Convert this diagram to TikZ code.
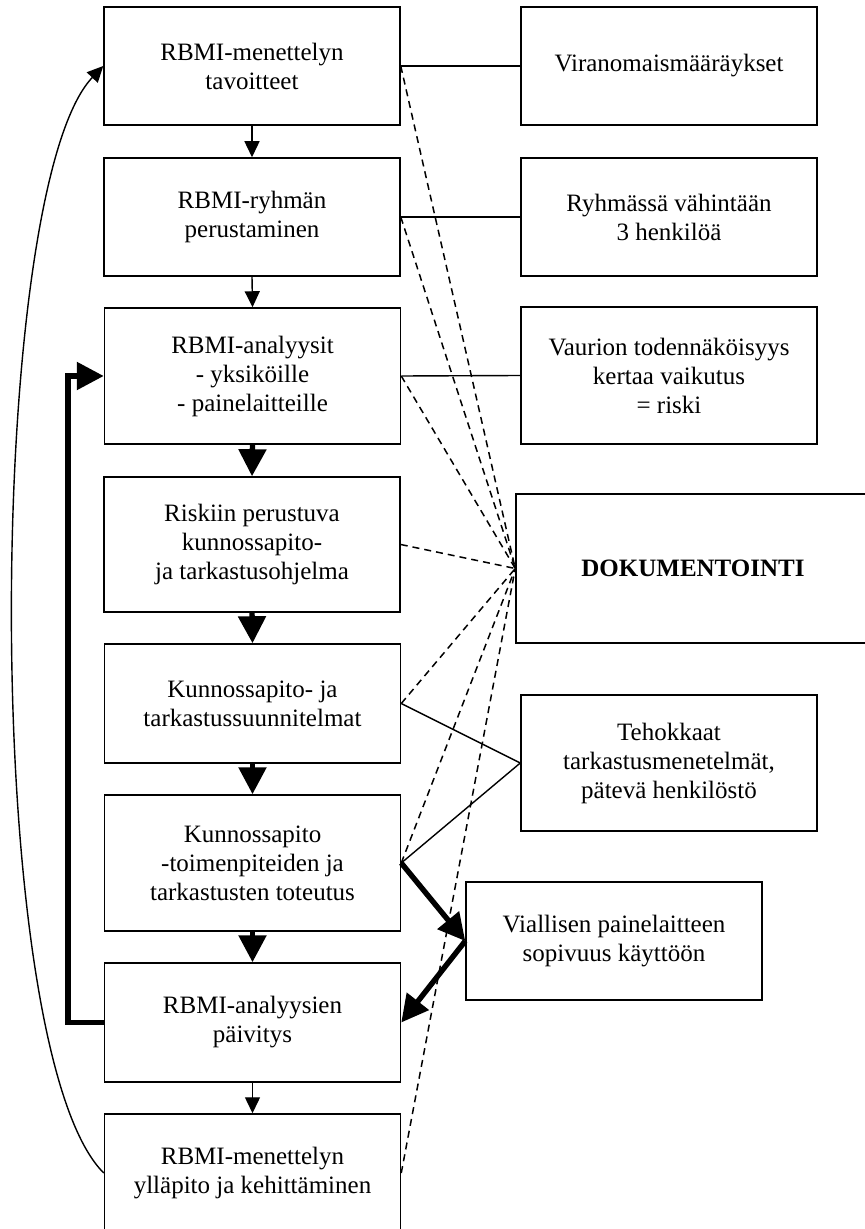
\documentclass[tikz,border=0pt]{standalone}
\usepackage{fontspec}
\setmainfont{Liberation Serif}
\usetikzlibrary{arrows.meta}
\begin{document}
\begin{tikzpicture}[x=0.5pt,y=-0.5pt,
  box/.style={draw, line width=0.75pt, align=center, inner sep=0pt,
    minimum width=148pt, minimum height=59pt,
    font=\fontsize{12.5}{14.5}\selectfont},
  sline/.style={line width=0.7pt},
  dsh/.style={line width=0.75pt, dash pattern=on 3.5pt off 2.5pt},
  tarr/.style={line width=0.7pt, -{Triangle[width=7.5pt,length=8pt]}},
  karr/.style={line width=2.7pt, -{Triangle[width=13.5pt,length=13.5pt]}},
]
\useasboundingbox (0,0) rectangle (865,1229);

% left column
\node[box] (b1) at (252,66) {RBMI-menettelyn\\tavoitteet};
\node[box] (b2) at (252,217) {RBMI-ryhmän\\perustaminen};
\node[box, minimum height=68pt] (b3) at (252.5,376) {RBMI-analyysit\\- yksiköille\\- painelaitteille};
\node[box, minimum height=67.5pt] (b4) at (252,544.5) {Riskiin perustuva\\kunnossapito-\\ja tarkastusohjelma};
\node[box, minimum height=59.5pt] (b5) at (252.5,703.5) {Kunnossapito- ja\\tarkastussuunnitelmat};
\node[box, minimum height=68pt] (b6) at (252.5,863) {Kunnossapito\\-toimenpiteiden ja\\tarkastusten toteutus};
\node[box, minimum height=59.5pt] (b7) at (252.5,1022.5) {RBMI-analyysien\\päivitys};
\node[box] (b8) at (252.5,1173) {RBMI-menettelyn\\ylläpito ja kehittäminen};

% right column
\node[box] (r1) at (669,66) {Viranomaismääräykset};
\node[box] (r2) at (669,217) {Ryhmässä vähintään\\3 henkilöä};
\node[box, minimum height=68.5pt] (r3) at (669,375.5) {Vaurion todennäköisyys\\kertaa vaikutus\\= riski};
\node[box, minimum width=177pt, minimum height=74.5pt] (dok) at (693,568.5) {\textbf{DOKUMENTOINTI}};
\node[box, minimum height=68pt] (teho) at (669,763) {Tehokkaat\\tarkastusmenetelmät,\\pätevä henkilöstö};
\node[box] (vial) at (614,941) {Viallisen painelaitteen\\sopivuus käyttöön};

% solid links
\draw[sline] (b1.east) -- (r1.west);
\draw[sline] (b2.east) -- (r2.west);
\draw[sline] (b3.east) -- (r3.west);
\draw[sline] (b5.east) -- (teho.west);
\draw[sline] (b6.east) -- (teho.west);

% dashed links to documentation
\foreach \b in {b1,b2,b3,b4,b5,b6,b8}
  \draw[dsh] (\b.east) -- (dok.west);

% down arrows
\draw[tarr] (b1.south) -- (b2.north);
\draw[tarr] (b2.south) -- (b3.north);
\draw[karr] (b3.south) -- (b4.north);
\draw[karr] (b4.south) -- (b5.north);
\draw[karr] (b5.south) -- (b6.north);
\draw[karr] (b6.south) -- (b7.north);
\draw[tarr] (b7.south) -- (b8.north);

% thick side arrows
\draw[karr] (b6.east) -- (vial.west);
\draw[karr] (vial.west) -- (b7.east);
\draw[karr] (b7.west) -- (68,1022.5) |- (b3.west);

% feedback curve
\draw[tarr] (b8.west) .. controls (-20,1050) and (-15,190) .. (b1.west);
\end{tikzpicture}
\end{document}
